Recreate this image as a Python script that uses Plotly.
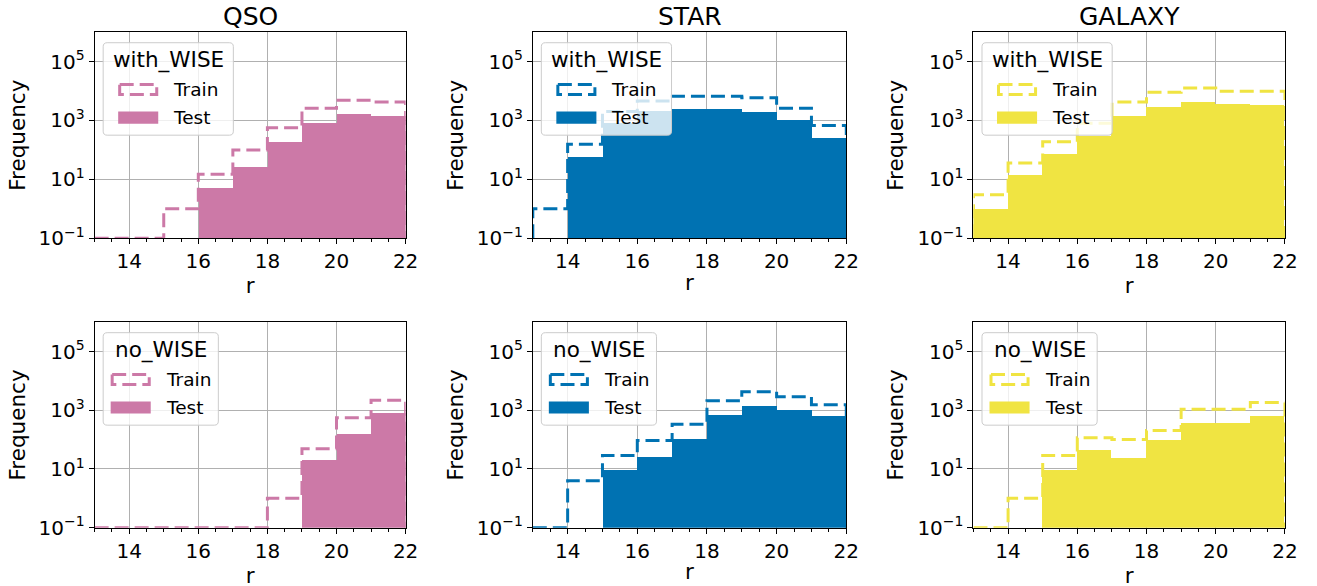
import numpy as np
import plotly.graph_objects as go

# design frame (all pixel positions below are given in this frame)
FIG_W, FIG_H = 1317, 586
# rendered page size of the figure
PAGE_W, PAGE_H = 1332, 601

# ---- data -------------------------------------------------------------
BIN_EDGES = [13, 14, 15, 16, 17, 18, 19, 20, 21, 22]
CLASSES = ["QSO", "STAR", "GALAXY"]
SUBSETS = ["with_WISE", "no_WISE"]

# histogram counts per r-magnitude bin (13-14, 14-15, ..., 21-22)
qso_with_train = [0, 0, 1, 15, 100, 570, 2600, 4900, 4200]
qso_with_test = [0, 0, 0, 5, 25, 180, 800, 1650, 1440]
star_with_train = [1, 155, 2000, 4600, 6600, 6600, 5900, 2600, 680]
star_with_test = [0, 55, 790, 2000, 2400, 2500, 1950, 1000, 245]
galaxy_with_train = [3, 36, 190, 800, 4200, 9100, 12800, 9800, 9800]
galaxy_with_test = [1, 14, 70, 300, 1450, 2800, 4200, 3500, 3300]

qso_no_train = [0, 0, 0, 0, 0, 1, 49, 550, 2200]
qso_no_test = [0, 0, 0, 0, 0, 0, 20, 158, 780]
star_no_train = [0, 4, 29, 94, 330, 2100, 4300, 2900, 1550]
star_no_test = [0, 0, 9, 26, 107, 680, 1400, 1000, 620]
galaxy_no_train = [0, 1, 29, 115, 100, 205, 1070, 1070, 1820]
galaxy_no_test = [0, 0, 9, 45, 24, 98, 370, 350, 620]

COUNTS = {
    ("QSO", "with_WISE"): (qso_with_train, qso_with_test),
    ("STAR", "with_WISE"): (star_with_train, star_with_test),
    ("GALAXY", "with_WISE"): (galaxy_with_train, galaxy_with_test),
    ("QSO", "no_WISE"): (qso_no_train, qso_no_test),
    ("STAR", "no_WISE"): (star_no_train, star_no_test),
    ("GALAXY", "no_WISE"): (galaxy_no_train, galaxy_no_test),
}

Y_TICKS = [0.1, 10, 1000, 100000]
Y_TICK_TEXT = ["10<sup>\u22121</sup>", "10<sup>1</sup>", "10<sup>3</sup>", "10<sup>5</sup>"]

# ---- style ------------------------------------------------------------
COLORS = {"QSO": "#CC79A7", "STAR": "#0072B2", "GALAXY": "#F0E442"}
FONT = "DejaVu Sans"
Y_LOG_RANGE = [-1, 6]
Y_FLOOR = 10 ** Y_LOG_RANGE[0]

# panel boxes in design pixels
COL_PX = [(94.5, 405.0), (532.0, 845.0), (972.0, 1283.0)]
ROW_PX = [(32.0, 237.0), (320.5, 525.0)]

LEGEND_W = {"with_WISE": 130, "no_WISE": 115}
LEG_DX, LEG_DY, LEG_H = 8.5, 10.5, 92
PATCH_W, PATCH_H, LABEL_GAP, LABEL_W = 40, 13, 13, 47


def px_x(x):
    return x / FIG_W


def px_y(y):
    return 1 - y / FIG_H


def rounded_rect_path(x0, y0, x1, y1, r):
    pts = [
        ("M", x0 + r, y0), ("L", x1 - r, y0), ("Q", x1, y0, x1, y0 + r),
        ("L", x1, y1 - r), ("Q", x1, y1, x1 - r, y1), ("L", x0 + r, y1),
        ("Q", x0, y1, x0, y1 - r), ("L", x0, y0 + r), ("Q", x0, y0, x0 + r, y0),
    ]
    out = []
    for p in pts:
        cmd, coords = p[0], p[1:]
        s = " ".join(
            f"{px_x(coords[i]):.5f},{px_y(coords[i + 1]):.5f}" for i in range(0, len(coords), 2)
        )
        out.append(f"{cmd} {s}")
    return " ".join(out) + " Z"


def add_legend(fig, ax_left, ax_top, title, color):
    w = LEGEND_W[title]
    left, top = ax_left + LEG_DX, ax_top + LEG_DY
    fig.add_shape(
        type="path", xref="paper", yref="paper", layer="above",
        path=rounded_rect_path(left, top, left + w, top + LEG_H, 4),
        fillcolor="rgba(255,255,255,0.8)", line=dict(color="#cccccc", width=1),
    )
    fig.add_annotation(
        x=px_x(left + w / 2), y=px_y(top + 17), xref="paper", yref="paper",
        text=title, showarrow=False, xanchor="center", yanchor="middle",
        font=dict(family=FONT, size=21.5, color="black"),
    )
    start = left + (w - (PATCH_W + LABEL_GAP + LABEL_W)) / 2
    rows = [("Train", top + 46.5, False), ("Test", top + 74.5, True)]
    for label, cy, filled in rows:
        if filled:
            fig.add_shape(
                type="rect", xref="paper", yref="paper", layer="above",
                x0=px_x(start), x1=px_x(start + PATCH_W),
                y0=px_y(cy - 6), y1=px_y(cy + 6),
                fillcolor=color, line=dict(width=0),
            )
        else:
            fig.add_shape(
                type="rect", xref="paper", yref="paper", layer="above",
                x0=px_x(start + 1.5), x1=px_x(start + PATCH_W - 1.5),
                y0=px_y(cy - PATCH_H / 2 + 1.5), y1=px_y(cy + PATCH_H / 2 - 1.5),
                fillcolor="rgba(0,0,0,0)", line=dict(color=color, width=3, dash="14px,6px"),
            )
        fig.add_annotation(
            x=px_x(start + PATCH_W + LABEL_GAP), y=px_y(cy), xref="paper", yref="paper",
            text=label, showarrow=False, xanchor="left", yanchor="middle",
            font=dict(family=FONT, size=18.5, color="black"),
        )


fig = go.Figure()
edges = np.array(BIN_EDGES, dtype=float)
centers = (edges[:-1] + edges[1:]) / 2
widths = np.diff(edges)

for r, subset in enumerate(SUBSETS):
    for c, cls in enumerate(CLASSES):
        k = r * 3 + c + 1
        sfx = "" if k == 1 else str(k)
        color = COLORS[cls]
        train, test = COUNTS[(cls, subset)]

        # filled test histogram
        fig.add_trace(go.Bar(
            x=centers, y=[v if v > 0 else None for v in test], width=widths,
            marker=dict(color=color, line=dict(width=0)),
            xaxis="x" + sfx, yaxis="y" + sfx, showlegend=False, name="Test",
        ))
        # dashed step outline of the train histogram
        step_x = np.repeat(edges, 2)
        step_y = np.concatenate([[Y_FLOOR], np.repeat(np.maximum(train, Y_FLOOR), 2), [Y_FLOOR]])
        fig.add_trace(go.Scatter(
            x=step_x, y=step_y, mode="lines",
            line=dict(color=color, width=3, dash="14px,6px"),
            xaxis="x" + sfx, yaxis="y" + sfx, showlegend=False, name="Train",
        ))

        x0, x1 = COL_PX[c]
        y0, y1 = ROW_PX[r]
        axis_common = dict(
            showline=True, mirror=True, linecolor="black", linewidth=1,
            ticks="outside", ticklen=5, tickwidth=1, tickcolor="black",
            showgrid=True, gridcolor="#b0b0b0", gridwidth=0.8, zeroline=False,
            tickfont=dict(family=FONT, size=20, color="black"),
        )
        fig.layout["xaxis" + sfx] = dict(
            domain=[px_x(x0), px_x(x1)], anchor="y" + sfx, range=[13, 22],
            tickmode="linear", tick0=14, dtick=2,
            minor=dict(tickmode="linear", tick0=13, dtick=0.5, ticks="outside",
                       ticklen=3, tickcolor="black", showgrid=False),
            title=dict(text="r", font=dict(family=FONT, size=21.5, color="black"), standoff=2),
            **axis_common,
        )
        fig.layout["yaxis" + sfx] = dict(
            domain=[px_y(y1), px_y(y0)], anchor="x" + sfx, type="log", range=Y_LOG_RANGE,
            tickmode="array", tickvals=Y_TICKS, ticktext=Y_TICK_TEXT,
            title=dict(text="Frequency", font=dict(family=FONT, size=21.5, color="black"), standoff=7),
            **axis_common,
        )

        add_legend(fig, x0, y0, subset, color)

        if r == 0:
            fig.add_annotation(
                x=px_x((x0 + x1) / 2), y=px_y(16), xref="paper", yref="paper",
                text=cls, showarrow=False, xanchor="center", yanchor="middle",
                font=dict(family=FONT, size=25, color="black"),
            )

fig.update_layout(
    width=PAGE_W, height=PAGE_H,
    margin=dict(l=0, r=0, t=0, b=0),
    paper_bgcolor="white", plot_bgcolor="white",
    barmode="overlay", bargap=0, showlegend=False,
)

# no page margin or scrollbars around the figure
PAGE_STYLE_JS = (
    "document.body.style.margin='0';"
    "document.documentElement.style.overflow='hidden';"
)
fig.write_html("out.html", post_script=PAGE_STYLE_JS)
